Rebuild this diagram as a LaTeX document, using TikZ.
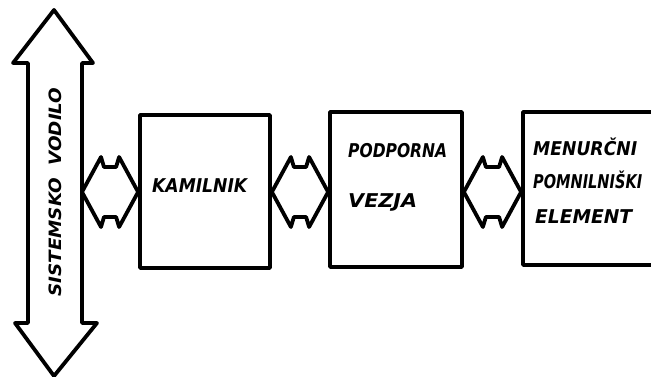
\documentclass[tikz,border=0pt]{standalone}
\usepackage{fontspec}
\setmainfont{DejaVu Sans}
\usepackage{graphicx}
\usetikzlibrary{calc}

% hand-lettered caps, stretched horizontally to a given width
\newcommand\lettering[2]{\resizebox{#1}{\height}{#2}}

\tikzset{
  ink/.style={line width=3.8pt, line join=round, line cap=round},
  block/.style={ink, draw, rectangle, inner sep=0pt},
  caption/.style={anchor=base west, inner sep=0pt,
    font=\fontsize{19}{19}\selectfont\bfseries\itshape},
}

% hollow double-headed bus arrow between two named points (same height)
\newcommand\busarrow[2]{%
  \draw[ink] let \p1=(#1), \p2=(#2) in
    (\x1,\y1) -- (\x1+19pt,157) -- (\x1+22pt,167) -- (\x2-22pt,167)
    -- (\x2-19pt,157) -- (\x2,\y2) -- (\x2-19pt,227) -- (\x2-22pt,217)
    -- (\x1+22pt,217) -- (\x1+19pt,227) -- cycle;}

\begin{document}
\begin{tikzpicture}[x=1pt, y=-1pt]
\useasboundingbox (0,0) rectangle (651,376);
\clip (0,0) rectangle (651,376);
\fill[white] (0,0) rectangle (651,376);

% system bus: vertical double arrow
\draw[ink] (54,10) -- (93,63) -- (82,63) -- (82,323) -- (97,323)
  -- (54,376) -- (15,323) -- (28,323) -- (28,63) -- (13,63) -- cycle;
\node[rotate=90, inner sep=0pt,
  font=\fontsize{17}{17}\selectfont\bfseries\itshape] (vodilo) at (55,192)
  {\lettering{209pt}{SISTEMSKO\ \ VODILO}};
\coordinate (busport) at (82,192);

% blocks
\node[block, minimum width=130pt, minimum height=153pt] (kamilnik) at (205,191.5) {};
\node[block, minimum width=132pt, minimum height=155pt] (podporna) at (396,189.5) {};
\node[block, minimum width=160pt, minimum height=153pt] (element) at (603,188.5) {};

% block labels
\node[caption] (t1) at (152,192) {\lettering{95pt}{KAMILNIK}};
\node[caption] (t2) at (348,157) {\lettering{99pt}{PODPORNA}};
\node[caption] (t3) at (348,207) {\lettering{69pt}{VEZJA}};
\node[caption] (t4) at (533,155) {\lettering{104pt}{MENURČNI}};
\node[caption] (t5) at (533,188) {\lettering{109pt}{POMNILNIŠKI}};
\node[caption] (t6) at (535,223) {\lettering{97pt}{ELEMENT}};

% bus connections
\coordinate (k-in) at (kamilnik.west |- busport);
\coordinate (k-out) at (kamilnik.east |- busport);
\coordinate (p-in) at (podporna.west |- busport);
\coordinate (p-out) at (podporna.east |- busport);
\coordinate (e-in) at (element.west |- busport);
\busarrow{busport}{k-in}
\busarrow{k-out}{p-in}
\busarrow{p-out}{e-in}
\end{tikzpicture}
\end{document}
